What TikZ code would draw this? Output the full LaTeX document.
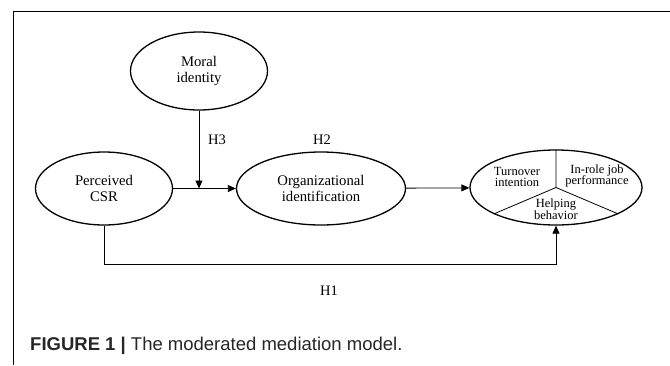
\documentclass[tikz,border=0pt]{standalone}
\usepackage{fontspec}
\setmainfont{Liberation Serif}
\setsansfont{Liberation Sans}
\usetikzlibrary{arrows.meta,positioning,shapes.geometric}

\begin{document}
\begin{tikzpicture}[x=1pt,y=-1pt,
  latent/.style={draw,ellipse,line width=1.3pt,inner sep=0pt,align=center,
    font=\fontsize{14.7}{15.5}\selectfont},
  link/.style={line width=0.8pt,-{Triangle[length=8pt,width=7pt]}},
  hlabel/.style={font=\fontsize{14.5}{15}\selectfont},
  part/.style={align=center,inner sep=1pt,font=\fontsize{12.5}{11.5}\selectfont}]
  \useasboundingbox (0,0) rectangle (670,365);
  % Frame
  \draw[line width=0.9pt] (13,365) -- (13,11) -- (670,11);
  % Latent variables
  \node[latent,minimum width=137pt,minimum height=78pt] (moral) at (199,71) {Moral\\identity};
  \node[latent,minimum width=137pt,minimum height=73pt] (csr) at (104,188.5) {Perceived\\CSR};
  \node[latent,minimum width=169pt,minimum height=73pt] (orgid) at (321,188.5) {Organizational\\identification};
  \node[latent,minimum width=172pt,minimum height=75pt] (outcome) at (556,187.5) {};
  % Outcome parts
  \draw[line width=0.8pt] (outcome.north) -- (outcome.center) -- (outcome.203);
  \draw[line width=0.8pt] (outcome.center) -- (outcome.337);
  \node[part] (turn) at (517,177) {Turnover\\intention};
  \node[part] (inrole) at (597,176) {In-role job\\performance};
  \node[part] (help) at (556,209) {Helping\\behavior};
  % Paths
  \draw[link] (csr) -- (orgid);
  \coordinate (meet) at (moral.south |- csr.east);
  \draw[link] (moral.south) -- (meet);
  \draw[link] (orgid) -- (outcome);
  \coordinate (h1left) at (104,264);
  \draw[link] (csr.south) -- (h1left) -| (outcome.south);
  % Hypotheses
  \node[hlabel] (h3) at (217,140) {H3};
  \node[hlabel] (h2) at (322,140) {H2};
  \node[hlabel] (h1) at (329,291) {H1};
  % Caption
  \node[anchor=base west,inner sep=0pt,text=black!85,font=\sffamily\fontsize{18.5}{20}\selectfont] (cap) at (30,350)
    {\textbf{FIGURE 1 |} The moderated mediation model.};
\end{tikzpicture}
\end{document}
